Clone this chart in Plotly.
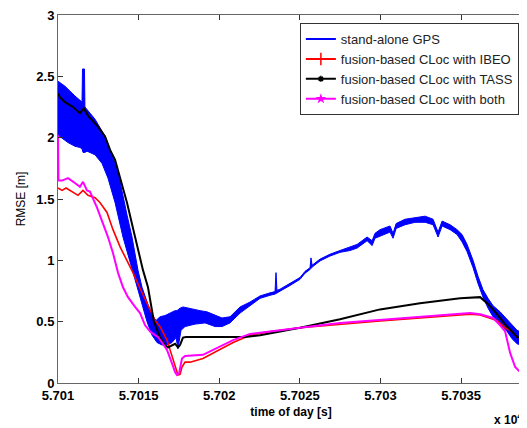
import plotly.graph_objects as go

T0 = 57010.0

# stand-alone GPS: oscillation band (upper / lower envelopes), time offsets in s
gps_up_t = [0.00, 0.43, 1.05, 1.36, 1.49, 1.52, 1.64, 1.67, 1.80, 2.30, 2.92, 3.41, 3.66, 3.85, 4.03,
            4.28, 4.59, 4.96, 5.21, 5.40, 5.58, 5.83, 6.08, 6.33, 6.64, 6.95, 7.26, 7.38, 7.57, 7.75,
            8.19, 8.81, 9.24, 9.74, 10.17, 10.67, 11.29, 11.91, 12.53, 13.15, 13.46, 13.52, 13.58,
            13.77, 14.39, 15.01, 15.32, 15.63, 15.69, 15.76, 16.25, 16.87, 17.49, 18.11, 18.55,
            18.86, 19.17, 19.48, 19.66, 19.97, 20.59, 20.78, 20.97, 21.52, 22.14, 22.77, 23.26,
            23.57, 23.82, 24.32, 24.75, 25.06, 25.37, 25.74, 26.05, 26.36, 26.67, 26.98, 27.42,
            27.85, 28.16, 28.47, 28.91]
gps_up = [2.46, 2.42, 2.34, 2.30, 2.29, 2.56, 2.56, 2.25, 2.23, 2.15, 2.01, 1.84, 1.75, 1.64, 1.52,
          1.37, 1.19, 0.92, 0.78, 0.70, 0.64, 0.55, 0.51, 0.54, 0.55, 0.57, 0.59, 0.59, 0.61, 0.62,
          0.61, 0.59, 0.58, 0.55, 0.53, 0.54, 0.62, 0.66, 0.71, 0.735, 0.745, 0.90, 0.755,
          0.765, 0.81, 0.86, 0.91, 0.94, 1.02, 0.96, 1.01, 1.05, 1.08, 1.11, 1.13,
          1.16, 1.19, 1.16, 1.22, 1.25, 1.28, 1.22, 1.30, 1.335, 1.35, 1.36, 1.335,
          1.23, 1.32, 1.29, 1.25, 1.21, 1.13, 1.00, 0.87, 0.76, 0.69, 0.63, 0.58,
          0.52, 0.47, 0.43, 0.40]
gps_lo_t = [0.00, 0.62, 1.05, 1.36, 1.49, 1.55, 1.67, 1.80, 2.30, 2.73, 3.10, 3.54, 4.03, 4.59, 4.90,
            5.21, 5.52, 5.83, 6.14, 6.45, 6.76, 7.07, 7.32, 7.44, 7.51, 7.63, 7.88, 8.50, 9.12, 9.74,
            10.17, 10.67, 11.29, 11.91, 12.53, 13.15, 13.46, 13.58, 13.77, 14.39, 15.01, 15.32,
            15.63, 15.76, 16.25, 16.87, 17.49, 18.11, 18.55, 18.86, 19.17, 19.48, 19.66, 19.97,
            20.59, 20.78, 20.97, 21.52, 22.14, 22.77, 23.26, 23.57, 23.82, 24.32, 24.75, 25.06,
            25.37, 25.74, 26.05, 26.36, 26.67, 26.98, 27.42, 27.85, 28.16, 28.47, 28.91]
gps_lo = [2.02, 1.96, 1.93, 1.92, 1.91, 1.88, 1.88, 1.89, 1.86, 1.79, 1.67, 1.47, 1.19, 0.92, 0.78,
          0.64, 0.50, 0.39, 0.33, 0.31, 0.31, 0.33, 0.37, 0.28, 0.31, 0.43, 0.46, 0.48, 0.49, 0.46,
          0.46, 0.49, 0.57, 0.63, 0.69, 0.715, 0.725, 0.735, 0.745, 0.795, 0.845, 0.895,
          0.925, 0.945, 0.995, 1.035, 1.065, 1.08, 1.10, 1.13, 1.16, 1.12, 1.18, 1.20,
          1.23, 1.18, 1.26, 1.29, 1.31, 1.31, 1.29, 1.19, 1.28, 1.25, 1.21, 1.15,
          1.07, 0.94, 0.81, 0.70, 0.61, 0.54, 0.48, 0.42, 0.36, 0.32, 0.30]

# fusion-based CLoc with IBEO
ibeo_t = [0.00, 0.25, 0.50, 0.87, 1.24, 1.55, 1.86, 2.30, 2.61, 3.04, 3.41, 3.85, 4.28, 4.65, 5.09,
          5.40, 5.71, 6.02, 6.33, 6.58, 6.76, 6.95, 7.13, 7.32, 7.44, 7.57, 7.69, 7.88, 8.19, 8.99,
          9.74, 10.86, 11.91, 12.96, 15.01, 17.49, 19.97, 22.45, 24.94, 25.56, 26.18, 26.80,
          27.23, 27.73, 28.16, 28.47, 28.91]
ibeo = [1.59, 1.57, 1.59, 1.56, 1.53, 1.57, 1.53, 1.51, 1.47, 1.39, 1.25, 1.11, 1.00, 0.90, 0.77,
        0.68, 0.60, 0.51, 0.46, 0.39, 0.35, 0.27, 0.19, 0.11, 0.065, 0.07, 0.13, 0.17, 0.17, 0.20,
        0.25, 0.33, 0.39, 0.415, 0.45, 0.48, 0.505, 0.53, 0.555, 0.56, 0.555, 0.53,
        0.51, 0.45, 0.42, 0.375, 0.36]

# fusion-based CLoc with TASS
tass_t = [0.00, 0.12, 0.43, 0.93, 1.36, 1.61, 1.86, 2.48, 2.92, 3.23, 3.54, 3.72, 4.28, 4.78, 5.27,
          5.58, 5.95, 6.33, 6.64, 6.82, 7.07, 7.26, 7.44, 7.57, 7.75, 7.94, 11.60, 12.53, 15.01,
          17.49, 19.97, 22.45, 24.94, 26.18, 26.61, 26.98, 27.42, 27.85, 28.16, 28.47, 28.91]
tass = [2.36, 2.33, 2.29, 2.25, 2.20, 2.24, 2.18, 2.09, 2.01, 1.90, 1.82, 1.74, 1.47, 1.19, 0.92,
        0.78, 0.50, 0.37, 0.31, 0.29, 0.31, 0.32, 0.29, 0.31, 0.37, 0.375, 0.375, 0.39, 0.45,
        0.52, 0.60, 0.65, 0.69, 0.70, 0.65, 0.60, 0.53, 0.46, 0.42, 0.375, 0.37]

# fusion-based CLoc with both
both_t = [0.00, 0.03, 0.25, 0.62, 1.05, 1.36, 1.55, 1.80, 1.98, 2.42, 2.79, 3.10, 3.41, 3.72, 4.03,
          4.34, 4.78, 5.09, 5.40, 5.71, 6.02, 6.20, 6.45, 6.76, 7.07, 7.26, 7.38, 7.51, 7.69, 7.88,
          8.99, 9.74, 10.86, 11.91, 12.96, 15.01, 17.49, 19.97, 22.45, 24.94, 25.56, 26.18,
          26.98, 27.42, 27.73, 28.04, 28.35, 28.66, 28.91]
both = [2.02, 1.65, 1.65, 1.67, 1.63, 1.60, 1.64, 1.57, 1.56, 1.43, 1.30, 1.19, 1.06, 0.90, 0.78,
        0.70, 0.62, 0.57, 0.47, 0.42, 0.39, 0.375, 0.33, 0.27, 0.16, 0.09, 0.065, 0.08, 0.20, 0.22,
        0.23, 0.28, 0.35, 0.40, 0.415, 0.45, 0.49, 0.515, 0.54, 0.56, 0.57, 0.56,
        0.53, 0.47, 0.42, 0.245, 0.13, 0.09, 0.09]

x_ticks = [57010, 57015, 57020, 57025, 57030, 57035]
x_tick_labels = ["5.701", "5.7015", "5.702", "5.7025", "5.703", "5.7035"]
y_ticks = [0, 0.5, 1, 1.5, 2, 2.5, 3]
y_tick_labels = ["0", "0.5", "1", "1.5", "2", "2.5", "3"]

names = ["stand-alone GPS", "fusion-based CLoc with IBEO",
         "fusion-based CLoc with TASS", "fusion-based CLoc with both"]

def abs_t(ts):
    return [T0 + v for v in ts]

FONT = "Arial, Liberation Sans, sans-serif"
fig = go.Figure()

band_x = abs_t(gps_up_t) + abs_t(gps_lo_t)[::-1]
band_y = gps_up + gps_lo[::-1]
fig.add_trace(go.Scatter(x=band_x, y=band_y, mode="lines", fill="toself",
                         fillcolor="#0000ff", line=dict(color="#0000ff", width=1),
                         showlegend=False, hoverinfo="skip"))
fig.add_trace(go.Scatter(x=abs_t(ibeo_t), y=ibeo, mode="lines",
                         line=dict(color="#ff0000", width=1.6), showlegend=False))
fig.add_trace(go.Scatter(x=abs_t(tass_t), y=tass, mode="lines",
                         line=dict(color="#000000", width=2), showlegend=False))
fig.add_trace(go.Scatter(x=abs_t(both_t), y=both, mode="lines",
                         line=dict(color="#ff00ff", width=2), showlegend=False))

# legend entries
fig.add_trace(go.Scatter(x=[None], y=[None], mode="lines", name=names[0],
                         line=dict(color="#0000ff", width=2)))
fig.add_trace(go.Scatter(x=[None], y=[None], mode="lines+markers", name=names[1],
                         line=dict(color="#ff0000", width=2),
                         marker=dict(symbol="cross-thin-open", size=9,
                                     line=dict(color="#ff0000", width=1.5))))
fig.add_trace(go.Scatter(x=[None], y=[None], mode="lines+markers", name=names[2],
                         line=dict(color="#000000", width=2),
                         marker=dict(symbol="asterisk-open", size=5,
                                     line=dict(color="#000000", width=1.5))))
fig.add_trace(go.Scatter(x=[None], y=[None], mode="lines+markers", name=names[3],
                         line=dict(color="#ff00ff", width=2),
                         marker=dict(symbol="star", size=8, color="#ff00ff")))

axis_common = dict(showline=True, linecolor="#666666", linewidth=1, mirror="ticks",
                   ticks="inside", ticklen=5, tickcolor="#333333", showgrid=False,
                   zeroline=False, automargin=False, ticklabeloverflow="allow",
                   tickfont=dict(family=FONT, size=13, color="#000000", weight="bold"))

# page body adds an 8 px offset, so the figure is sized to fit inside it
fig.update_layout(
    width=519, height=420,
    margin=dict(l=50, r=3, t=7, b=45),
    paper_bgcolor="white", plot_bgcolor="white",
    font=dict(family=FONT, color="#000000"),
    xaxis=dict(range=[57010, 57038.9], tickvals=x_ticks, ticktext=x_tick_labels,
               title=dict(text="<b>time of day [s]</b>", font=dict(size=12), standoff=6),
               **axis_common),
    yaxis=dict(range=[0, 3], tickvals=y_ticks, ticktext=y_tick_labels,
               title=dict(text="RMSE [m]", font=dict(size=12), standoff=8),
               **axis_common),
    legend=dict(x=0.989, y=0.978, xanchor="right", yanchor="top",
                bgcolor="white", bordercolor="#333333", borderwidth=1,
                font=dict(family=FONT, size=13, color="#222222"),
                itemwidth=30, tracegroupgap=0),
    annotations=[dict(text="<b>x 10<sup>4</sup></b>", xref="paper", yref="paper",
                      x=1.0, y=-0.098, xanchor="right", yanchor="middle",
                      showarrow=False, font=dict(family=FONT, size=12, color="#000000"))],
)

fig.write_html("out.html")
